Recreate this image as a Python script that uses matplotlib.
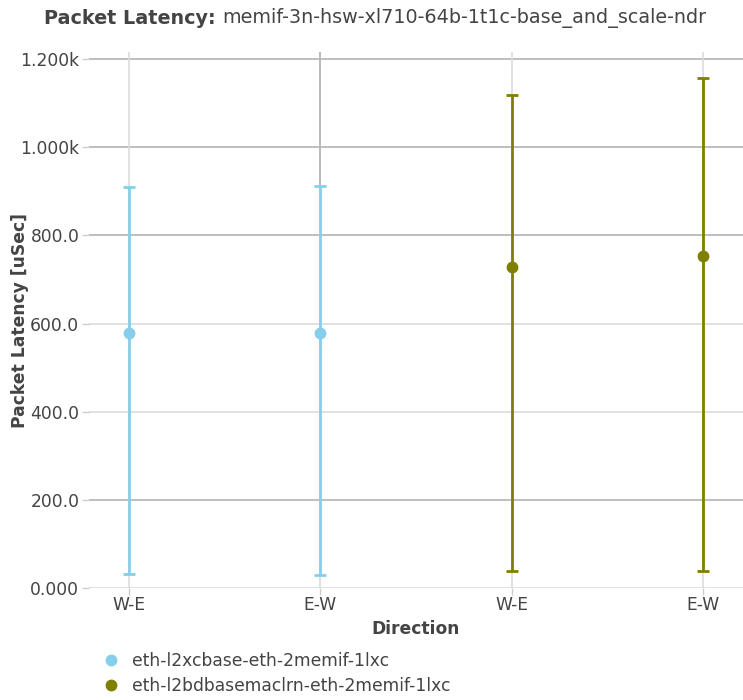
import numpy as np
import matplotlib
matplotlib.use('Agg')
import matplotlib.pyplot as plt
from matplotlib.lines import Line2D

# Data
directions = ['W-E', 'E-W', 'W-E', 'E-W']
series_names = ['eth-l2xcbase-eth-2memif-1lxc', 'eth-l2bdbasemaclrn-eth-2memif-1lxc']
series_pos = [[0, 1], [2, 3]]
series_avg = [[579, 579], [729, 754]]
series_max = [[910, 911], [1119, 1156]]
series_min = [[32, 30], [38, 38]]
colors = ['#87ceeb', '#808000']

yticks = [0, 200, 400, 600, 800, 1000, 1200]
ytick_labels = ['0.000', '200.0', '400.0', '600.0', '800.0', '1.000k', '1.200k']

plt.rcParams['font.family'] = 'DejaVu Sans'
fig = plt.figure(figsize=(7.43, 7.0), dpi=100)
ax = fig.add_axes([89 / 743, 1 - 588 / 700, (743 - 89) / 743, (588 - 52) / 700])

# grid lines drawn by hand (the reference has mixed shades)
dark_rows = [200, 800, 1000, 1200]
for v in yticks:
    c = '#b4b4b4' if v in dark_rows else '#dcdcdc'
    ax.axhline(v, color=c, lw=1.2, zorder=0)
for i in range(len(directions)):
    ax.axvline(i, color='#dcdcdc', lw=1.2, zorder=0)
ax.plot([1, 1], [series_max[0][1], 1300], color='#b4b4b4', lw=1.2, zorder=0)

for name, pos, avg, mx, mn, col in zip(series_names, series_pos, series_avg,
                                       series_max, series_min, colors):
    avg = np.array(avg)
    err = [avg - np.array(mn), np.array(mx) - avg]
    ax.errorbar(pos, avg, yerr=err, fmt='o', color=col, ecolor=col,
                elinewidth=2, capsize=4, capthick=2, markersize=7.5, label=name,
                zorder=3)

ax.set_xlim(-0.208, 3.208)
ax.set_ylim(0, 1216)
ax.set_xticks(range(len(directions)))
ax.set_xticklabels(directions)
ax.set_yticks(yticks)
ax.set_yticklabels(ytick_labels)
for s in ax.spines.values():
    s.set_visible(False)
ax.tick_params(axis='both', colors='#cccccc', labelcolor='#444444',
               labelsize=12.3, length=5, width=1)
ax.tick_params(axis='x', pad=1)
ax.tick_params(axis='y', pad=2)

ax.set_xlabel('Direction', fontsize=12.3, fontweight='bold', color='#444444',
              labelpad=4)
ax.set_ylabel('Packet Latency [uSec]', fontsize=12.3, fontweight='bold',
              color='#444444', va='center')
ax.yaxis.set_label_coords((20 - 89) / 654, 0.5)

fig.text(216 / 743, 1 - 18 / 700, 'Packet Latency:', fontsize=13.75,
         fontweight='bold', color='#444444', ha='right', va='center')
fig.text(222 / 743, 1 - 18 / 700, 'memif-3n-hsw-xl710-64b-1t1c-base_and_scale-ndr',
         fontsize=13.75, color='#444444', ha='left', va='center')

h2 = [Line2D([], [], marker='o', ls='none', color=c, markersize=7.5) for c in colors]
fig.legend(h2, series_names, loc='upper left', bbox_to_anchor=(94 / 743, 1 - 652 / 700),
           frameon=False, fontsize=12.3, labelcolor='#444444', handletextpad=0.2,
           labelspacing=0.4, borderaxespad=0, borderpad=0)

plt.savefig('out.png', dpi=100)
